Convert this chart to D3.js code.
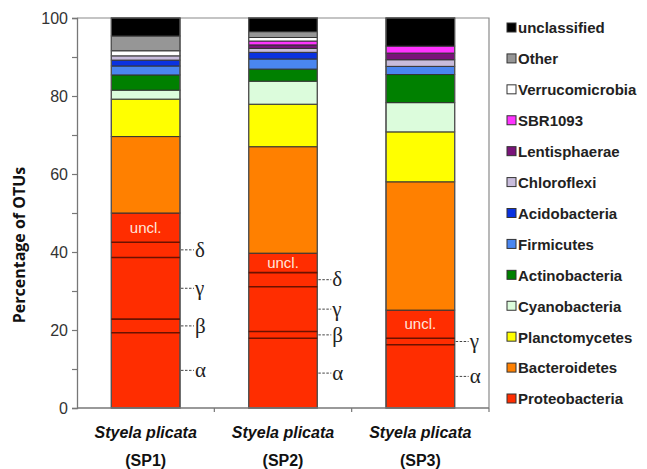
<!DOCTYPE html>
<html>
<head>
<meta charset="utf-8">
<script src="https://cdn.jsdelivr.net/npm/d3@7"></script>
<style>
  html, body { margin: 0; padding: 0; background: #fff; }
  svg { display: block; }
</style>
</head>
<body>
<svg id="chart" width="647" height="469"></svg>
<script>
// ---------- DATA ----------
const samples = ["SP1", "SP2", "SP3"];
const sampleTitle = "Styela plicata";
// phyla from bottom of stack to top
const phyla = ["Proteobacteria", "Bacteroidetes", "Planctomycetes", "Cyanobacteria",
  "Actinobacteria", "Firmicutes", "Acidobacteria", "Chloroflexi", "Lentisphaerae",
  "SBR1093", "Verrucomicrobia", "Other", "unclassified"];
const phylaColors = ["#ff2d00", "#ff8000", "#ffff00", "#dcfcdc",
  "#008000", "#4a86f0", "#0a32e0", "#c8bcdc", "#7a137a",
  "#ff33ff", "#ffffff", "#969696", "#000000"];
const valuesSP1 = [50.0, 19.6, 9.6, 2.3, 3.9, 2.3, 1.5, 1.1, 0.0, 0.0, 1.3, 3.8, 4.6];
const valuesSP2 = [39.7, 27.3, 10.9, 5.9, 3.1, 2.6, 1.7, 1.0, 0.9, 1.0, 0.9, 1.5, 3.5];
const valuesSP3 = [25.1, 32.9, 12.8, 7.5, 7.2, 2.1, 0.0, 1.7, 1.7, 1.8, 0.0, 0.0, 7.2];
// Proteobacteria subdivisions (bottom to top)
const proteoParts = ["α", "β", "γ", "δ", "uncl."];
const proteoSP1 = [19.3, 3.5, 15.8, 3.9, 7.5];
const proteoSP2 = [17.9, 1.7, 11.5, 3.6, 5.0];
const proteoSP3 = [16.2, 0.0, 1.7, 0.0, 7.2];
const yTicks = [0, 10, 20, 30, 40, 50, 60, 70, 80, 90, 100];
const yLabel = "Percentage of OTUs";

// ---------- BUILD ----------
const allValues = [valuesSP1, valuesSP2, valuesSP3];
const allProteo = [proteoSP1, proteoSP2, proteoSP3];
const table = samples.map((s, i) => {
  const row = { sample: s };
  phyla.forEach((p, j) => row[p] = allValues[i][j]);
  return row;
});
const stack = d3.stack().keys(phyla)(table);

const svg = d3.select("#chart");
const plot = { left: 77, right: 489, top: 18, bottom: 408 };

const x = d3.scaleBand().domain(samples).range([plot.left, plot.right]).padding(0);
const y = d3.scaleLinear().domain([0, 100]).range([plot.bottom, plot.top]);
const color = d3.scaleOrdinal().domain(phyla).range(phylaColors);
const bw = x.bandwidth();
const barX = s => x(s) + bw * 0.25;
const barW = bw * 0.5;

// plot frame (top + right)
svg.append("path")
  .attr("d", `M${plot.left},${plot.top}H${plot.right}V${plot.bottom}`)
  .attr("fill", "none").attr("stroke", "#8a8a8a").attr("stroke-width", 1.2);

// stacked bars
const layers = svg.append("g").selectAll("g").data(stack).join("g")
  .attr("fill", d => color(d.key));
layers.selectAll("rect").data(d => d.filter(e => e[1] - e[0] > 0)).join("rect")
  .attr("x", d => barX(d.data.sample))
  .attr("width", barW)
  .attr("y", d => y(d[1]))
  .attr("height", d => y(d[0]) - y(d[1]))
  .attr("stroke", "#333")
  .attr("stroke-width", 1);

// bar outline
svg.append("g").selectAll("rect").data(samples).join("rect")
  .attr("x", d => barX(d)).attr("width", barW)
  .attr("y", y(100)).attr("height", y(0) - y(100))
  .attr("fill", "none").attr("stroke", "#555").attr("stroke-width", 1.2);

// Proteobacteria subdivisions
samples.forEach((s, i) => {
  const parts = allProteo[i];
  let cum = 0;
  const segs = parts.map((v, k) => { const seg = { name: proteoParts[k], lo: cum, hi: cum + v }; cum += v; return seg; })
    .filter(d => d.hi - d.lo > 0);
  const g = svg.append("g");
  segs.slice(0, -1).forEach(seg => {
    g.append("line")
      .attr("x1", barX(s)).attr("x2", barX(s) + barW)
      .attr("y1", y(seg.hi)).attr("y2", y(seg.hi))
      .attr("stroke", "#6b1200").attr("stroke-width", 1.6);
  });
  segs.forEach(seg => {
    const mid = (seg.lo + seg.hi) / 2;
    if (seg.name === "uncl.") {
      g.append("text")
        .attr("x", barX(s) + barW / 2).attr("y", y(mid))
        .attr("dy", "0.35em").attr("text-anchor", "middle")
        .attr("font-family", "Liberation Sans, Arial, sans-serif")
        .attr("font-size", 15).attr("fill", "#ffe6dc")
        .text(seg.name);
    } else {
      const yy = y(mid);
      g.append("line")
        .attr("x1", barX(s) + barW + 1).attr("x2", barX(s) + barW + 14)
        .attr("y1", yy).attr("y2", yy)
        .attr("stroke", "#444").attr("stroke-width", 1)
        .attr("stroke-dasharray", "2.5,1.5");
      g.append("text")
        .attr("x", barX(s) + barW + 15).attr("y", yy)
        .attr("dy", "0.32em")
        .attr("font-family", "Liberation Serif, Times New Roman, serif")
        .attr("font-size", 21).attr("fill", "#222")
        .text(seg.name);
    }
  });
});

// y axis
const yAxis = d3.axisLeft(y).tickValues(yTicks)
  .tickFormat(d => d % 20 === 0 ? d : "").tickSize(5).tickPadding(4);
const yg = svg.append("g").attr("transform", `translate(${plot.left},0)`).call(yAxis);
yg.select(".domain").attr("stroke", "#777").attr("stroke-width", 1.3);
yg.selectAll(".tick line").attr("stroke", "#777").attr("stroke-width", 1.2);
yg.selectAll(".tick text").attr("font-family", "Liberation Sans, Arial, sans-serif")
  .attr("font-size", 16).attr("fill", "#333");

// x axis
const xg = svg.append("g").attr("transform", `translate(0,${plot.bottom})`);
xg.append("line").attr("x1", plot.left).attr("x2", plot.right)
  .attr("stroke", "#777").attr("stroke-width", 1.3);
const boundaries = samples.map(s => x(s)).slice(1).concat([plot.right]);
xg.selectAll("line.tk").data(boundaries).join("line").attr("class", "tk")
  .attr("x1", d => d).attr("x2", d => d).attr("y1", 0).attr("y2", 4)
  .attr("stroke", "#777").attr("stroke-width", 1.2);
const xl = xg.selectAll("g.lab").data(samples).join("g").attr("class", "lab")
  .attr("transform", d => `translate(${x(d) + bw / 2},0)`);
xl.append("text").attr("y", 30).attr("text-anchor", "middle")
  .attr("font-family", "Liberation Sans, Arial, sans-serif")
  .attr("font-weight", "bold").attr("font-style", "italic")
  .attr("font-size", 16).attr("fill", "#111")
  .text(sampleTitle);
xl.append("text").attr("y", 58).attr("text-anchor", "middle")
  .attr("font-family", "Liberation Sans, Arial, sans-serif")
  .attr("font-weight", "bold")
  .attr("font-size", 16).attr("fill", "#111")
  .text(d => `(${d})`);

// y label
svg.append("text")
  .attr("transform", `translate(25,${(plot.top + plot.bottom) / 2 + 32}) rotate(-90)`)
  .attr("text-anchor", "middle")
  .attr("font-family", "Open Sans, Liberation Sans, sans-serif")
  .attr("font-weight", "bold").attr("font-size", 16).attr("fill", "#111")
  .text(yLabel);

// legend (top to bottom: reverse stack order)
const legendItems = phyla.slice().reverse();
const ly = d3.scalePoint().domain(legendItems).range([28, 399]);
const lg = svg.append("g").selectAll("g").data(legendItems).join("g")
  .attr("transform", d => `translate(507,${ly(d)})`);
lg.append("rect").attr("x", 0).attr("y", -5).attr("width", 9).attr("height", 9)
  .attr("fill", d => color(d)).attr("stroke", "#333").attr("stroke-width", 1);
lg.append("text").attr("x", 11).attr("y", 0).attr("dy", "0.36em")
  .attr("font-family", "Liberation Sans, Arial, sans-serif")
  .attr("font-weight", "bold").attr("font-size", 15).attr("fill", "#222")
  .text(d => d);
</script>
</body>
</html>
